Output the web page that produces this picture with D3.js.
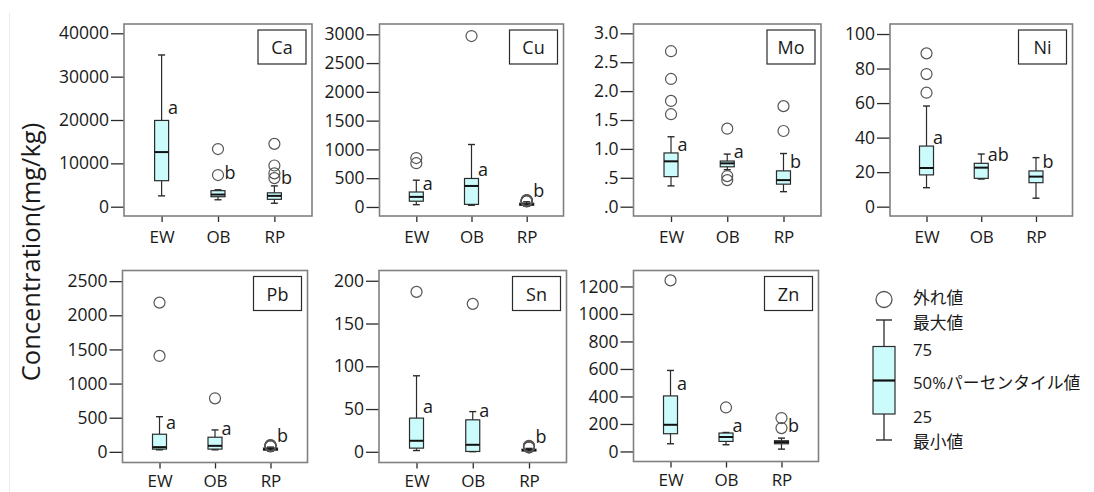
<!DOCTYPE html>
<html>
<head>
<meta charset="utf-8">
<script src="https://cdn.jsdelivr.net/npm/d3@7"></script>
<style>
  body { margin: 0; background: #fff; }
  svg { display: block; }
  text { font-family: "Open Sans", "Noto Sans CJK JP", sans-serif; fill: #1a1a1a; }
</style>
</head>
<body>
<div id="chart"></div>
<script>
const groups = ["EW", "OB", "RP"];
const elements = ["Ca", "Cu", "Mo", "Ni", "Pb", "Sn", "Zn"];

// five-number summaries [min, q1, median, q3, max], one row per group (EW, OB, RP)
const caBoxes = [[2500, 6000, 12600, 19900, 35000], [1600, 2300, 2800, 3700, 3900], [800, 1700, 2500, 3200, 4800]];
const cuBoxes = [[40, 100, 175, 260, 465], [30, 45, 365, 495, 1085], [15, 30, 45, 65, 90]];
const moBoxes = [[0.36, 0.52, 0.785, 0.93, 1.21], [0.64, 0.69, 0.75, 0.79, 0.91], [0.26, 0.39, 0.46, 0.62, 0.92]];
const niBoxes = [[11, 18.4, 22.4, 35.1, 58.3], [16, 16.4, 22.6, 25.1, 30.5], [4.9, 13.9, 17.4, 20.7, 28.4]];
const pbBoxes = [[30, 40, 69, 258, 515], [30, 40, 88, 214, 321], [10, 25, 40, 55, 70]];
const snBoxes = [[1.5, 4.3, 12.9, 39.4, 88.9], [0.2, 0.4, 8.2, 37.4, 47], [0.5, 1, 2, 3, 4]];
const znBoxes = [[56, 129, 194, 404, 589], [49, 73, 105, 134, 138], [17, 56, 68, 78, 97]];

// outliers per group
const caOutliers = [[], [13300, 7300], [14500, 9500, 7700, 6600]];
const cuOutliers = [[850, 760], [2970], [95, 100, 105, 110, 115, 120]];
const moOutliers = [[2.69, 2.21, 1.83, 1.6], [1.35, 0.53, 0.46], [1.74, 1.31]];
const niOutliers = [[88.8, 76.8, 66], [], []];
const pbOutliers = [[2185, 1405], [784], [80, 85, 90, 95, 100]];
const snOutliers = [[187], [173], [5, 5.5, 6, 6.5, 7]];
const znOutliers = [[1244], [320], [243, 170]];

// significance letters and the value where each sits
const caLetters = ["a", "b", "b"], caLetterY = [23000, 8000, 6900];
const cuLetters = ["a", "a", "b"], cuLetterY = [418, 668, 290];
const moLetters = ["a", "a", "b"], moLetterY = [1.085, 0.97, 0.79];
const niLetters = ["a", "ab", "b"], niLetterY = [40.5, 30.5, 26.6];
const pbLetters = ["a", "a", "b"], pbLetterY = [442, 346, 248];
const snLetters = ["a", "a", "b"], snLetterY = [54, 49, 18];
const znLetters = ["a", "a", "b"], znLetterY = [497, 194, 194];

// axis ticks and labels
const caTicks = [0, 10000, 20000, 30000, 40000];
const cuTicks = [0, 500, 1000, 1500, 2000, 2500, 3000];
const moTicks = [0, 0.5, 1, 1.5, 2, 2.5, 3];
const moTickLabels = [".0", ".5", "1.0", "1.5", "2.0", "2.5", "3.0"];
const niTicks = [0, 20, 40, 60, 80, 100];
const pbTicks = [0, 500, 1000, 1500, 2000, 2500];
const snTicks = [0, 50, 100, 150, 200];
const znTicks = [0, 200, 400, 600, 800, 1000, 1200];

const yDomains = [[-2145, 42145], [-157, 3179], [-0.161, 3.161], [-5.4, 105.8], [-156, 2656], [-12.5, 212], [-73, 1316]];

const legendLabels = ["外れ値", "最大値", "75", "50%パーセンタイル値", "25", "最小値"];

// frame of each panel on the page
const panelLayout = [
    { x: 124, y: 24, w: 188, h: 192, pad: 9 },
    { x: 379.5, y: 24, w: 184, h: 192, pad: 9 },
    { x: 633.5, y: 24, w: 187.5, h: 192, pad: 9 },
    { x: 890, y: 24, w: 182.5, h: 192, pad: 9 },
    { x: 122.5, y: 270.5, w: 185, h: 192, pad: 6 },
    { x: 379, y: 270.5, w: 187.5, h: 192, pad: 6 },
    { x: 633.5, y: 270.5, w: 185, h: 191, pad: 6 }
];

const panels = [
    { boxes: caBoxes, outliers: caOutliers, letters: caLetters, letterY: caLetterY, ticks: caTicks },
    { boxes: cuBoxes, outliers: cuOutliers, letters: cuLetters, letterY: cuLetterY, ticks: cuTicks },
    { boxes: moBoxes, outliers: moOutliers, letters: moLetters, letterY: moLetterY, ticks: moTicks, tickLabels: moTickLabels },
    { boxes: niBoxes, outliers: niOutliers, letters: niLetters, letterY: niLetterY, ticks: niTicks },
    { boxes: pbBoxes, outliers: pbOutliers, letters: pbLetters, letterY: pbLetterY, ticks: pbTicks },
    { boxes: snBoxes, outliers: snOutliers, letters: snLetters, letterY: snLetterY, ticks: snTicks },
    { boxes: znBoxes, outliers: znOutliers, letters: znLetters, letterY: znLetterY, ticks: znTicks }
];

const width = 1094, height = 492;
const boxFill = "#ccfbfc", ink = "#2b2b2b";

const svg = d3.select("#chart").append("svg")
    .attr("width", width)
    .attr("height", height);

svg.append("rect").attr("width", width).attr("height", height).attr("fill", "#fff");

// faint border line on the left
svg.append("line")
    .attr("x1", 9.5).attr("x2", 9.5).attr("y1", 13).attr("y2", height)
    .attr("stroke", "#ececec");

// y title
svg.append("text")
    .attr("transform", "translate(40,252) rotate(-90)")
    .attr("text-anchor", "middle")
    .style("font-size", "25.5px")
    .text("Concentration(mg/kg)");

panels.forEach((p, k) => {
    const L = panelLayout[k];
    const g = svg.append("g").attr("transform", `translate(${L.x},${L.y})`);

    const x = d3.scalePoint().domain(groups).range([0, L.w]).padding(0.667);
    const y = d3.scaleLinear().domain(yDomains[k]).range([L.h, 0]);

    // y axis
    const yAxis = d3.axisLeft(y).tickValues(p.ticks).tickSize(13).tickPadding(2)
        .tickFormat((d, i) => p.tickLabels ? p.tickLabels[i] : d3.format("d")(d));
    const ya = g.append("g").call(yAxis);
    ya.select(".domain").remove();
    ya.selectAll("line").attr("stroke", ink).attr("stroke-width", 1.3);
    ya.selectAll("text").style("font-size", "17.5px").attr("fill", "#1a1a1a");

    // x axis
    const xAxis = d3.axisBottom(x).tickSize(6).tickPadding(L.pad);
    const xa = g.append("g").attr("transform", `translate(0,${L.h})`).call(xAxis);
    xa.select(".domain").remove();
    xa.selectAll("line").attr("stroke", ink).attr("stroke-width", 1.3);
    xa.selectAll("text").style("font-size", "17px").attr("fill", "#1a1a1a");

    // frame
    g.append("rect")
        .attr("width", L.w).attr("height", L.h)
        .attr("fill", "none")
        .attr("stroke", "#808080")
        .attr("stroke-width", 1.6);

    const bw = 14, cap = 3.5;
    groups.forEach((grp, i) => {
        const [mn, q1, md, q3, mx] = p.boxes[i];
        const cx = x(grp);
        const bg = g.append("g");
        bg.append("line").attr("x1", cx).attr("x2", cx).attr("y1", y(mx)).attr("y2", y(q3))
            .attr("stroke", ink).attr("stroke-width", 1.2);
        bg.append("line").attr("x1", cx).attr("x2", cx).attr("y1", y(q1)).attr("y2", y(mn))
            .attr("stroke", ink).attr("stroke-width", 1.2);
        [mn, mx].forEach(v => {
            bg.append("line").attr("x1", cx - cap).attr("x2", cx + cap).attr("y1", y(v)).attr("y2", y(v))
                .attr("stroke", ink).attr("stroke-width", 1.4);
        });
        bg.append("rect")
            .attr("x", cx - bw / 2).attr("y", y(q3))
            .attr("width", bw).attr("height", Math.max(1, y(q1) - y(q3)))
            .attr("fill", boxFill).attr("stroke", ink).attr("stroke-width", 1.2);
        bg.append("line").attr("x1", cx - bw / 2).attr("x2", cx + bw / 2).attr("y1", y(md)).attr("y2", y(md))
            .attr("stroke", "#111").attr("stroke-width", 2);

        bg.selectAll("circle").data(p.outliers[i]).enter().append("circle")
            .attr("cx", cx).attr("cy", d => y(d)).attr("r", 5.5)
            .attr("fill", "none").attr("stroke", "#555").attr("stroke-width", 1.2);

        g.append("text")
            .attr("x", cx + 6.5).attr("y", y(p.letterY[i]))
            .attr("dominant-baseline", "central")
            .style("font-size", "18px")
            .text(p.letters[i]);
    });

    // element label box
    const eb = g.append("g").attr("transform", `translate(${L.w - 54},6)`);
    eb.append("rect").attr("width", 48).attr("height", 34)
        .attr("fill", "#fff").attr("stroke", ink).attr("stroke-width", 1.2);
    eb.append("text").attr("x", 24).attr("y", 17)
        .attr("text-anchor", "middle").attr("dominant-baseline", "central")
        .style("font-size", "18px")
        .text(elements[k]);
});

// legend (schematic box)
const lg = svg.append("g").attr("transform", "translate(884,0)");
const legY = [299.5, 320, 346.5, 380.5, 414, 440];
lg.append("circle").attr("cx", 0).attr("cy", legY[0]).attr("r", 8)
    .attr("fill", "none").attr("stroke", "#555").attr("stroke-width", 1.3);
lg.append("line").attr("x1", 0).attr("x2", 0).attr("y1", legY[1]).attr("y2", legY[5])
    .attr("stroke", ink).attr("stroke-width", 1.3);
[legY[1], legY[5]].forEach(v => {
    lg.append("line").attr("x1", -8).attr("x2", 8).attr("y1", v).attr("y2", v)
        .attr("stroke", ink).attr("stroke-width", 1.4);
});
lg.append("rect").attr("x", -11).attr("y", legY[2]).attr("width", 22).attr("height", legY[4] - legY[2])
    .attr("fill", boxFill).attr("stroke", ink).attr("stroke-width", 1.2);
lg.append("line").attr("x1", -11).attr("x2", 11).attr("y1", legY[3]).attr("y2", legY[3])
    .attr("stroke", "#111").attr("stroke-width", 2.2);

// legend labels, one line per entry
const legTextY = [297.5, 322.5, 349, 382.5, 416, 441.5];
lg.selectAll("text.leg").data(legendLabels).enter().append("text")
    .attr("class", "leg")
    .attr("x", 29).attr("y", (d, i) => legTextY[i])
    .attr("dominant-baseline", "central")
    .style("font-size", "16.8px")
    .text(d => d);
</script>
</body>
</html>
